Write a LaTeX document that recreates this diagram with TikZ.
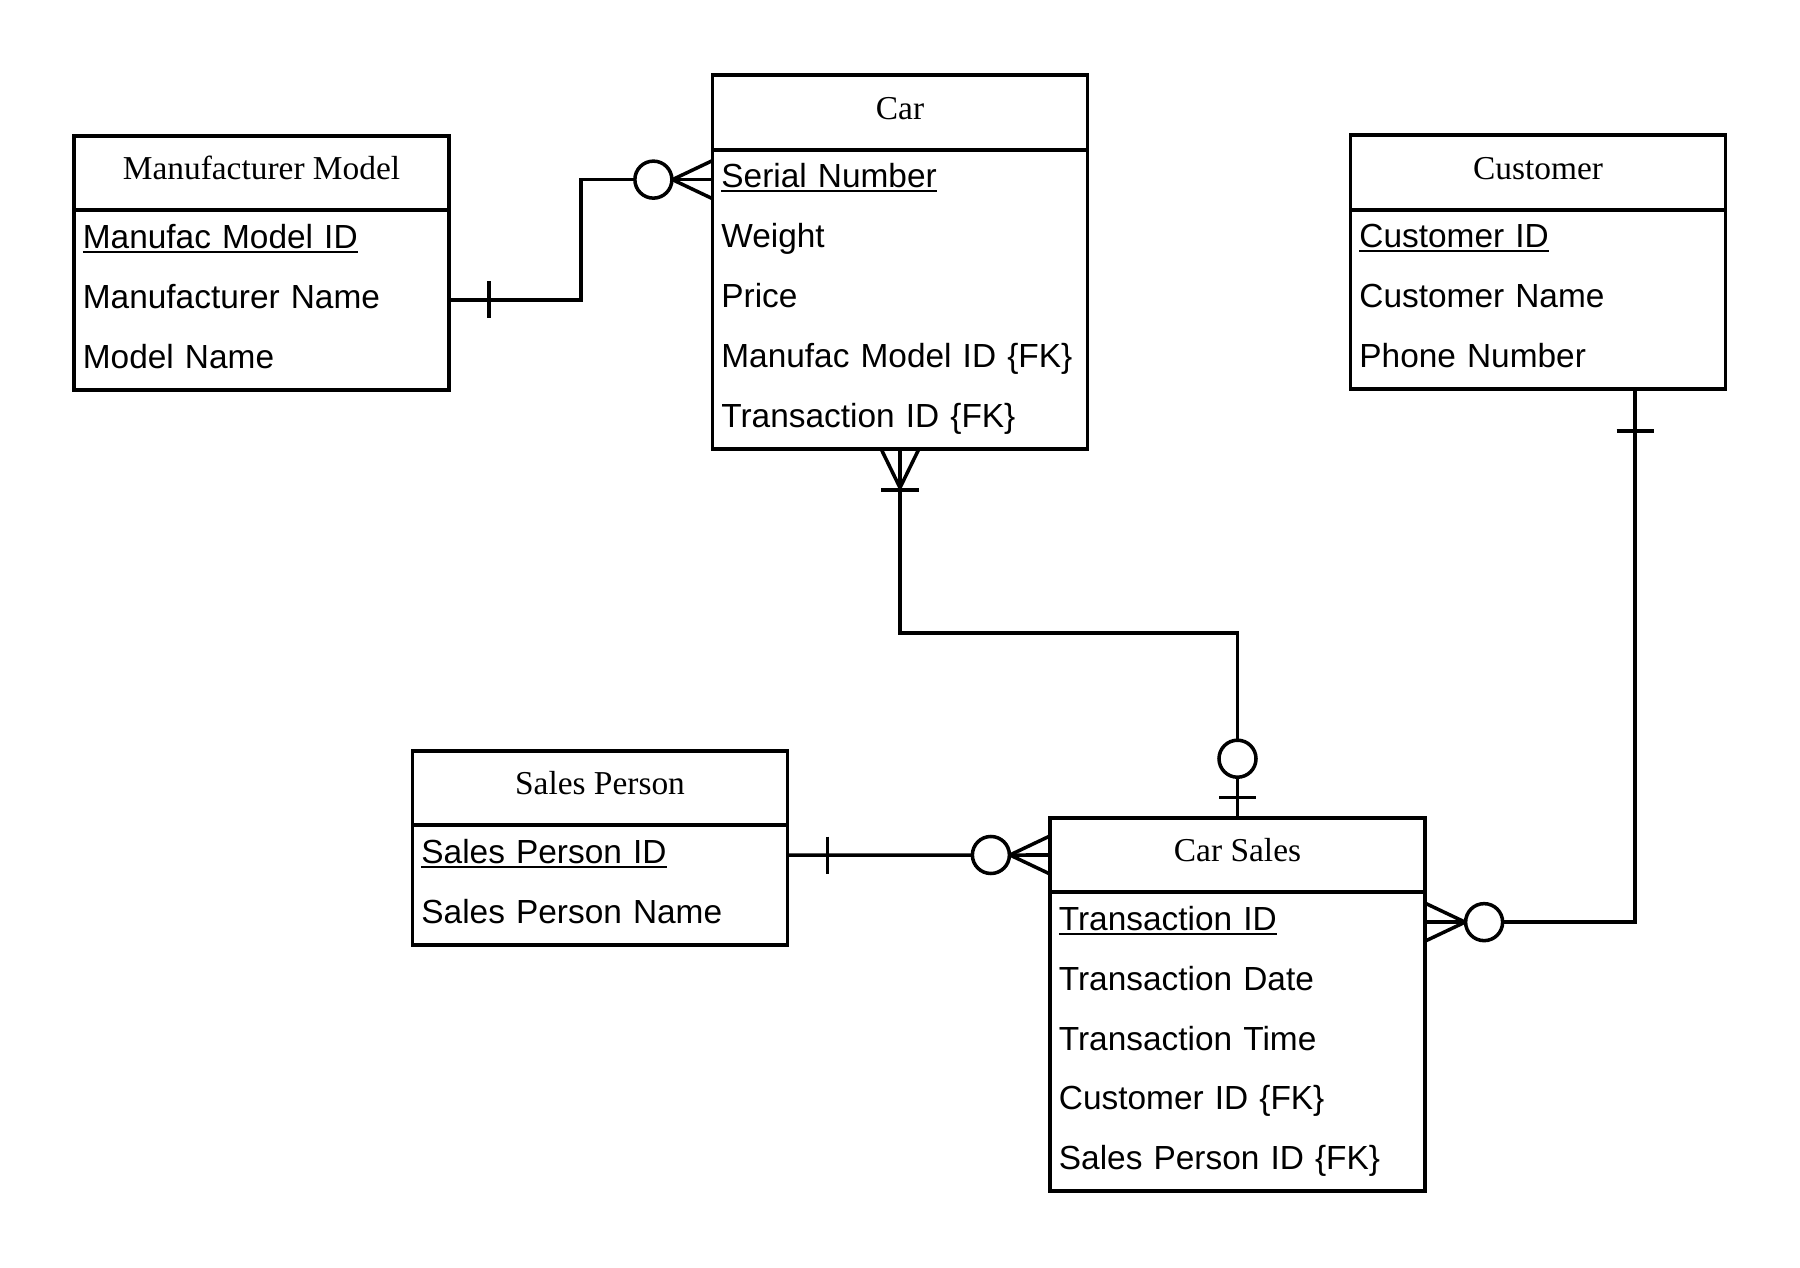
\documentclass[tikz,border=0pt]{standalone}
\usepackage{fontspec}
\setmainfont{Liberation Serif}
\setsansfont{Liberation Sans}
\newcommand{\pk}[1]{\setbox0\hbox{#1}\rlap{\rule[-1.27pt]{\wd0}{0.57pt}}#1}

\begin{document}
\begin{tikzpicture}[x=0.01cm,y=-0.01cm,
    every node/.style={font=\fontsize{9.5}{11}\selectfont},
    head/.style={rectangle,draw,line width=1.05pt,outer sep=0pt,inner sep=0pt,
        minimum width=3.75cm,minimum height=0.745cm,text height=0.2cm,text depth=0.064cm},
    row/.style={rectangle,outer sep=0pt,inner xsep=0.09cm,inner ysep=0pt,
        text width=3.57cm,align=left,minimum height=0.598cm,
        text height=0.2cm,text depth=0.033cm,font=\fontsize{9.5}{11}\selectfont\sffamily},
    box/.style={line width=1.05pt},
    rel/.style={line width=1pt}]
  \useasboundingbox (0,0) rectangle (1800,1268);

  % entities
  \node[head] (mm) at (261.5,173) {Manufacturer Model};
  \foreach \a [count=\i] in {\pk{Manufac Model ID},Manufacturer Name,Model Name}
    \node[row] (mm-\i) at (261.5,180.35+59.8*\i) {\a};
  \draw[box] (mm.south west) rectangle (mm-3.south east);

  \node[head] (car) at (900,112.5) {Car};
  \foreach \a [count=\i] in {\pk{Serial Number},Weight,Price,Manufac Model ID \{FK\},Transaction ID \{FK\}}
    \node[row] (car-\i) at (900,119.85+59.8*\i) {\a};
  \draw[box] (car.south west) rectangle (car-5.south east);

  \node[head] (cust) at (1538,172.5) {Customer};
  \foreach \a [count=\i] in {\pk{Customer ID},Customer Name,Phone Number}
    \node[row] (cust-\i) at (1538,179.85+59.8*\i) {\a};
  \draw[box] (cust.south west) rectangle (cust-3.south east);

  \node[head] (sp) at (600,788) {Sales Person};
  \foreach \a [count=\i] in {\pk{Sales Person ID},Sales Person Name}
    \node[row] (sp-\i) at (600,795.35+59.8*\i) {\a};
  \draw[box] (sp.south west) rectangle (sp-2.south east);

  \node[head] (cs) at (1237.5,855) {Car Sales};
  \foreach \a [count=\i] in {\pk{Transaction ID},Transaction Date,Transaction Time,Customer ID \{FK\},Sales Person ID \{FK\}}
    \node[row] (cs-\i) at (1237.5,862.35+59.8*\i) {\a};
  \draw[box] (cs.south west) rectangle (cs-5.south east);

  % Manufacturer Model -- Car
  \coordinate (jA) at (581,0);
  \draw[rel] (mm-2.east) -- (jA |- mm-2.east) -- (jA |- car-1.west) -- (car-1.west);
  \draw[rel] (mm-2.east) ++(40,-18.5) -- ++(0,37);
  \draw[rel] (car-1.west) ++(0,-19) -- ++(-40,19) -- ++(40,19);
  \draw[rel,fill=white] (car-1.west) ++(-59,0) circle[radius=0.185cm];

  % Car -- Car Sales
  \coordinate (jB) at (0,633);
  \draw[rel] (car-5.south) -- (jB -| car-5.south) -- (jB -| cs.north) -- (cs.north);
  \draw[rel] (car-5.south) ++(-19,0) -- ++(19,39) -- ++(19,-39);
  \draw[rel] (car-5.south) ++(-19,41) -- ++(38,0);
  \draw[rel] (cs.north) ++(-18.5,-20) -- ++(37,0);
  \draw[rel,fill=white] (cs.north) ++(0,-59) circle[radius=0.185cm];

  % Sales Person -- Car Sales
  \draw[rel] (sp-1.east) -- (cs.west);
  \draw[rel] (sp-1.east) ++(40,-18.5) -- ++(0,37);
  \draw[rel] (cs.west) ++(0,-19) -- ++(-40,19) -- ++(40,19);
  \draw[rel,fill=white] (cs.west) ++(-59,0) circle[radius=0.185cm];

  % Customer -- Car Sales
  \coordinate (jD) at (1635,0);
  \draw[rel] (jD |- cust-3.south) -- (jD |- cs-1.east) -- (cs-1.east);
  \draw[rel] (jD |- cust-3.south) ++(-18.5,42) -- ++(37,0);
  \draw[rel] (cs-1.east) ++(0,-19) -- ++(40,19) -- ++(-40,19);
  \draw[rel,fill=white] (cs-1.east) ++(59,0) circle[radius=0.185cm];
\end{tikzpicture}
\end{document}
